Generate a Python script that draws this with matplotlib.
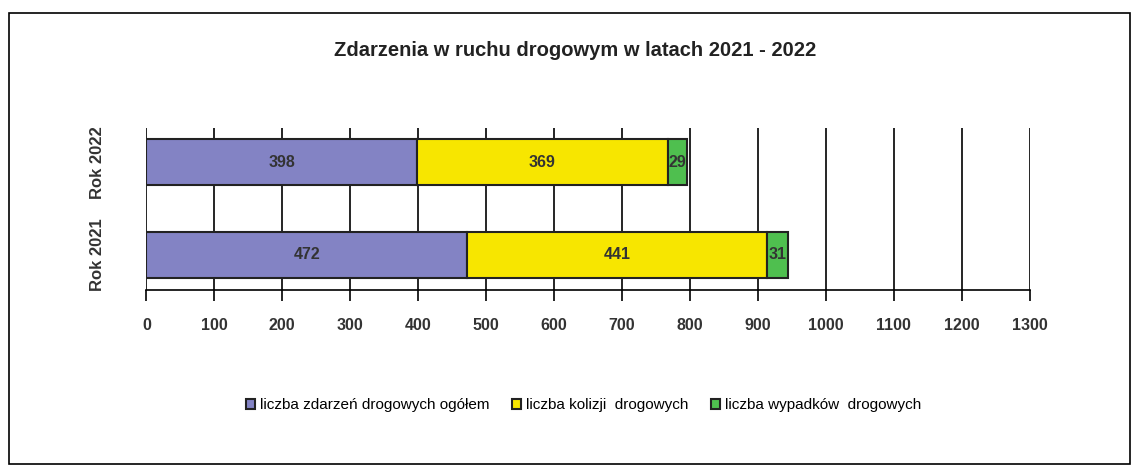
import matplotlib.pyplot as plt
from matplotlib.patches import Rectangle

plt.rcParams['font.family'] = ['Liberation Sans', 'DejaVu Sans']

# data
years = ['Rok 2021', 'Rok 2022']
ogolem = [472, 398]
kolizje = [441, 369]
wypadki = [31, 29]
series_names = ['liczba zdarzeń drogowych ogółem', 'liczba kolizji  drogowych',
                'liczba wypadków  drogowych']
colors = ['#8383c4', '#f7e600', '#4fbf4f']
ticks = list(range(0, 1301, 100))

fig = plt.figure(figsize=(11.44, 4.73), dpi=100)
fig.patches.append(Rectangle((0.008, 0.018), 0.98, 0.955, transform=fig.transFigure,
                             fill=False, edgecolor='black', linewidth=1.2))

ax = fig.add_axes([0.128, 0.387, 0.772, 0.342])

ypos = range(len(years))
left = [0] * len(years)
for vals, col, name in zip([ogolem, kolizje, wypadki], colors, series_names):
    bars = ax.barh(ypos, vals, left=left, height=0.5, color=col,
                   edgecolor='#222222', linewidth=1.5, label=name, zorder=3)
    for b, v in zip(bars, vals):
        ax.text(b.get_x() + b.get_width() / 2, b.get_y() + b.get_height() / 2,
                str(v), ha='center', va='center', fontsize=11.5,
                fontweight='bold', color='#333333', zorder=4)
    left = [l + v for l, v in zip(left, vals)]

ax.set_xlim(0, 1300)
ax.set_ylim(-0.38, 1.37)
ax.set_xticks(ticks)
ax.set_xticklabels([str(t) for t in ticks], fontsize=11.5, fontweight='bold', color='#333333')
ax.set_yticks(list(ypos))
ax.set_yticklabels(years, rotation=90, va='center', fontsize=12, fontweight='bold', color='#333333')
ax.tick_params(axis='y', length=0, pad=30)
ax.tick_params(axis='x', length=8, width=1.2, direction='out', pad=12)
ax.grid(axis='x', color='black', linewidth=1.2, zorder=0)
for s in ['top', 'right']:
    ax.spines[s].set_visible(False)
ax.spines['left'].set_visible(False)
ax.spines['bottom'].set_linewidth(1.2)

fig.text(0.503, 0.893, 'Zdarzenia w ruchu drogowym w latach 2021 - 2022',
         ha='center', va='center', fontsize=14.5, fontweight='bold', color='#222222')

fig.legend(loc='center', bbox_to_anchor=(0.51, 0.143), ncol=3, frameon=False,
           fontsize=11, handlelength=0.6, handleheight=0.6, columnspacing=1.5,
           handletextpad=0.3)

fig.savefig('out.png', dpi=100)
